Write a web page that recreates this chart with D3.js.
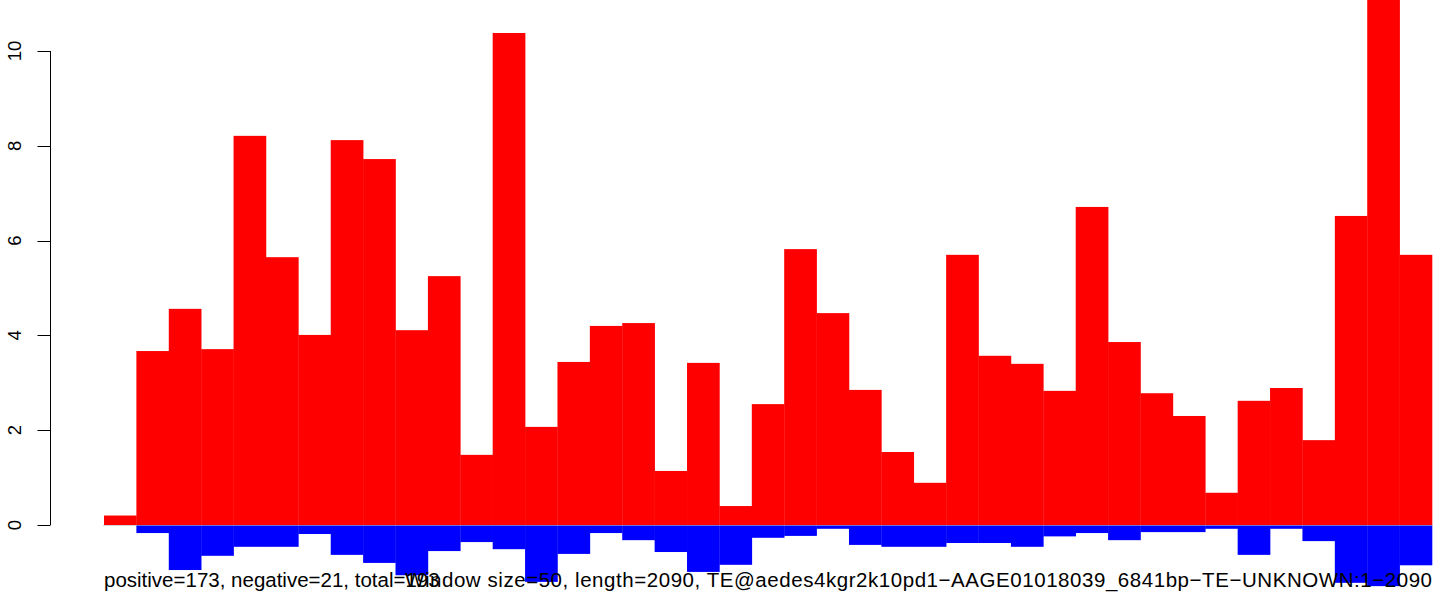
<!DOCTYPE html>
<html>
<head>
<meta charset="utf-8">
<script src="https://cdn.jsdelivr.net/npm/d3@7"></script>
<style>
  html, body { margin: 0; padding: 0; background: #fff; }
  svg { display: block; }
  text { font-family: "Liberation Sans", Arial, Helvetica, sans-serif; fill: #000; }
</style>
</head>
<body>
<svg id="chart" width="1444" height="594"></svg>
<script>
// window index (41 windows of 50 bp along a 2090 bp element)
const windows = d3.range(1, 42);
// positive-strand coverage per window
const positive = [0.20, 3.67, 4.56, 3.71, 8.21, 5.65, 4.01, 8.12, 7.72, 4.11,
                  5.25, 1.48, 10.38, 2.07, 3.44, 4.20, 4.26, 1.14, 3.42, 0.40,
                  2.55, 5.82, 4.47, 2.85, 1.54, 0.89, 5.70, 3.57, 3.40, 2.83,
                  6.71, 3.86, 2.78, 2.30, 0.68, 2.62, 2.89, 1.79, 6.52, 11.8, 5.70];
// negative-strand coverage per window
const negative = [0, -0.17, -0.95, -0.65, -0.46, -0.46, -0.19, -0.63, -0.80, -1.06,
                  -0.55, -0.36, -0.51, -1.20, -0.61, -0.17, -0.32, -0.57, -0.99, -0.84,
                  -0.27, -0.23, -0.08, -0.42, -0.46, -0.46, -0.38, -0.38, -0.46, -0.24,
                  -0.17, -0.32, -0.15, -0.15, -0.08, -0.63, -0.08, -0.34, -1.22, -1.29, -0.85];
const yTicks = [0, 2, 4, 6, 8, 10];
const leftLabel = "positive=173, negative=21, total=193";
const rightLabel = "Window size=50, length=2090, TE@aedes4kgr2k10pd1\u2212AAGE01018039_6841bp\u2212TE\u2212UNKNOWN:1\u22122090";

const svg = d3.select("#chart");
const W = 1444, H = 594;
const plotLeft = 104, plotRight = 1432;

const x = d3.scaleBand().domain(windows).range([plotLeft, plotRight]).paddingInner(0).paddingOuter(0);
const y = d3.scaleLinear().domain([0, 10]).range([525, 51]);

svg.append("defs").append("clipPath").attr("id", "plotclip")
  .append("rect").attr("x", 0).attr("y", 0).attr("width", W).attr("height", H);

const g = svg.append("g").attr("clip-path", "url(#plotclip)");

g.selectAll("rect.pos").data(windows).join("rect")
  .attr("class", "pos")
  .attr("x", d => x(d))
  .attr("width", x.bandwidth() + 0.3)
  .attr("y", (d, i) => y(positive[i]))
  .attr("height", (d, i) => y(0) - y(positive[i]))
  .attr("fill", "#ff0000");

g.selectAll("rect.neg").data(windows).join("rect")
  .attr("class", "neg")
  .attr("x", d => x(d))
  .attr("width", x.bandwidth() + 0.3)
  .attr("y", y(0))
  .attr("height", (d, i) => y(negative[i]) - y(0))
  .attr("fill", "#0000ff");

// thin zero line
svg.append("line")
  .attr("x1", plotLeft - 1).attr("x2", plotRight + 1)
  .attr("y1", y(0) + 0.5).attr("y2", y(0) + 0.5)
  .attr("stroke", "#bbbbbb").attr("stroke-width", 0.6);

// y axis (R style)
const axisX = 50.5;
const ax = svg.append("g");
ax.append("line")
  .attr("x1", axisX).attr("x2", axisX)
  .attr("y1", y(10)).attr("y2", y(0))
  .attr("stroke", "#000").attr("stroke-width", 1);
ax.selectAll("line.tick").data(yTicks).join("line")
  .attr("class", "tick")
  .attr("x1", axisX - 13).attr("x2", axisX)
  .attr("y1", d => Math.round(y(d)) + 0.5).attr("y2", d => Math.round(y(d)) + 0.5)
  .attr("stroke", "#000").attr("stroke-width", 1);
ax.selectAll("text.tl").data(yTicks).join("text")
  .attr("class", "tl")
  .attr("transform", d => `translate(20.5,${y(d)}) rotate(-90)`)
  .attr("text-anchor", "middle")
  .attr("font-size", 18.5)
  .text(d => d);

// bottom annotations
svg.append("text")
  .attr("x", plotLeft).attr("y", 586.5)
  .attr("text-anchor", "start")
  .attr("font-size", 20.5)
  .text(leftLabel);
svg.append("text")
  .attr("x", 405).attr("y", 586.5)
  .attr("text-anchor", "start")
  .attr("font-size", 20.5)
  .attr("textLength", plotRight - 405)
  .attr("lengthAdjust", "spacing")
  .text(rightLabel);
</script>
</body>
</html>
